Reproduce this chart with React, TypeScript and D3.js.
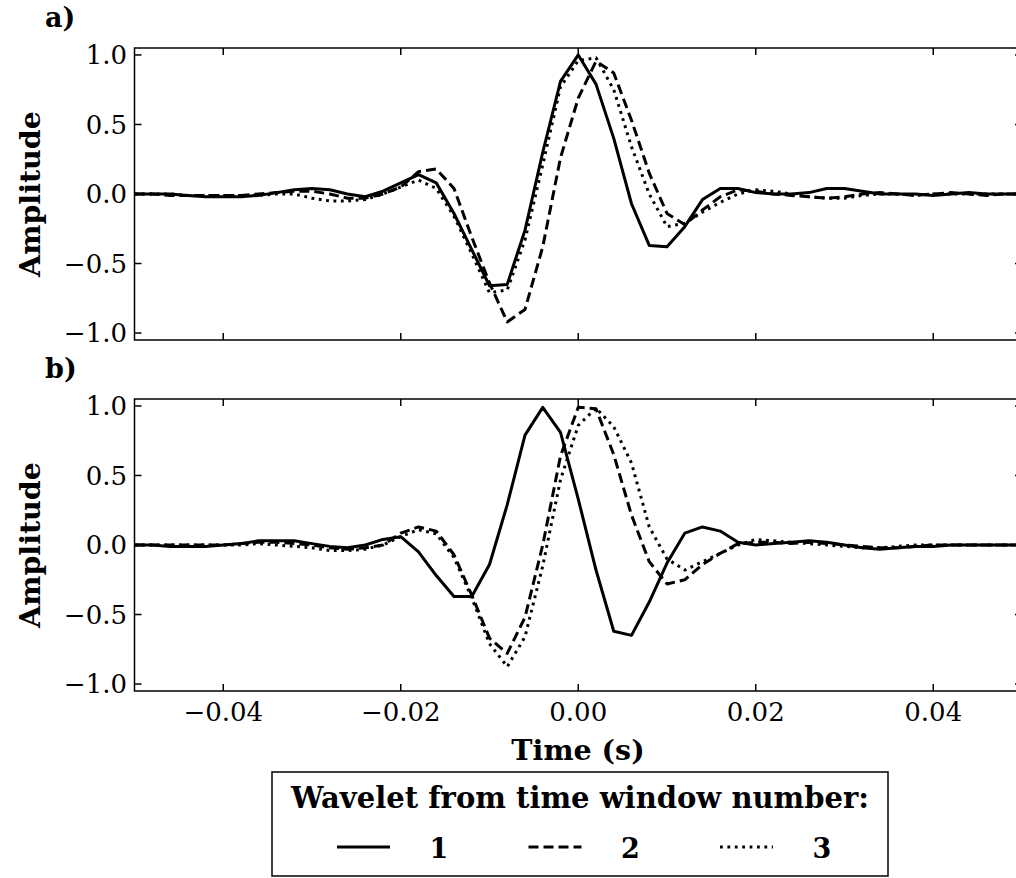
import React from 'react';
import * as d3 from 'd3';

// Sample times in milliseconds (2 ms sampling)
const TIME_MS = [-50,-48,-46,-44,-42,-40,-38,-36,-34,-32,-30,-28,-26,-24,-22,-20,-18,-16,-14,-12,-10,-8,-6,-4,-2,0,2,4,6,8,10,12,14,16,18,20,22,24,26,28,30,32,34,36,38,40,42,44,46,48,50];

// Panel a) wavelets
const A_WIN1 = [0,0,0,-0.01,-0.02, -0.02,-0.02,-0.01,0.01,0.03, 0.04,0.03,0,-0.02,0.02, 0.08,0.14,0.08,-0.14,-0.40, -0.66,-0.65,-0.26,0.30,0.81, 1.0, 0.79,0.40,-0.07,-0.37,-0.38, -0.235,-0.04,0.04,0.04,0.01, 0,0,0.01,0.04,0.04, 0.02,0,0,0,-0.01, 0,0.01,0,0,0];
const A_WIN2 = [0,0,-0.01,-0.01,-0.01, -0.01,-0.01,0,0.01,0.02, 0.02,0,-0.03,-0.03,0, 0.05,0.16,0.18,0.04,-0.31, -0.64,-0.92,-0.83,-0.38,0.26, 0.69, 0.955,0.87,0.53,0.15,-0.14, -0.22,-0.115,-0.02,0.03,0.02, 0,-0.01,-0.02,-0.03,-0.02, 0,0.01,0,-0.01,0, 0.01,0,-0.01,0,0];
const A_WIN3 = [0,0,0,-0.01,-0.01, -0.01,-0.01,-0.01,0,0, -0.03,-0.05,-0.05,-0.04,0, 0.05,0.10,0.04,-0.16,-0.43, -0.71,-0.69,-0.33,0.21,0.77, 0.96, 0.98,0.75,0.34,0,-0.235, -0.21,-0.13,-0.06,0,0.03, 0.02,0,-0.02,-0.03,-0.03, -0.01,0,0,-0.01,0, 0,0,0,0,0];

// Panel b) wavelets
const B_WIN1 = [0,0,-0.01,-0.01,-0.01, 0,0.01,0.03,0.03,0.03, 0.01,-0.01,-0.02,0,0.04, 0.06,-0.05,-0.22,-0.37,-0.37, -0.14,0.29,0.79,0.99,0.81, 0.33, -0.18,-0.62,-0.65,-0.41,-0.13, 0.085,0.13,0.10,0.02,0, 0.01,0.02,0.03,0.02,0, -0.02,-0.03,-0.02,-0.01,-0.01, 0,0,0,0,0];
const B_WIN2 = [0,0,0,0,0, 0,0.01,0.02,0.02,0.01, 0,-0.02,-0.03,-0.02,0, 0.085,0.13,0.10,-0.07,-0.36, -0.67,-0.78,-0.52,0,0.64, 0.99, 0.98,0.65,0.215,-0.12,-0.28, -0.25,-0.14,-0.06,0.01,0.02, 0.02,0.01,0.02,0.01,0, -0.01,-0.02,-0.02,-0.01,0, 0,0,0,0,0];
const B_WIN3 = [0,0,0,0,0, 0,0,0.01,0,-0.01, -0.02,-0.04,-0.04,-0.03,0, 0.06,0.11,0.08,-0.09,-0.38, -0.71,-0.875,-0.66,-0.15,0.47, 0.86, 0.985,0.85,0.59,0.13,-0.10, -0.18,-0.12,-0.06,0,0.04, 0.03,0.02,0.01,0,-0.01, -0.02,-0.02,-0.01,0,0, 0,0,0,0,0];

const X_TICKS = [-0.04, -0.02, 0, 0.02, 0.04];
const X_TICK_LABELS = ['\u22120.04', '\u22120.02', '0.00', '0.02', '0.04'];
const Y_TICKS = [-1, -0.5, 0, 0.5, 1];
const Y_TICK_LABELS = ['\u22121.0', '\u22120.5', '0.0', '0.5', '1.0'];
const PANEL_LABELS = ['a)', 'b)'];
const X_LABEL = 'Time (s)';
const Y_LABEL = 'Amplitude';
const LEGEND_TITLE = 'Wavelet from time window number:';
const LEGEND_LABELS = ['1', '2', '3'];
const DASHES = ['none', '10,5', '2.8,4.6'];

const FONT = '"DejaVu Serif", "Liberation Serif", serif';

export default function App() {
  const x = d3.scaleLinear().domain([-0.05, 0.05]).range([134.5, 1022]);
  const panelTops = [48, 399];
  const panelH = 292;
  const series = [[A_WIN1, A_WIN2, A_WIN3], [B_WIN1, B_WIN2, B_WIN3]];
  const tickLen = 7;
  const [x0, x1] = x.range();

  return (
    <svg width={1016} height={878} style={{ position: 'absolute', left: 0, top: 0, background: '#fff' }} fontFamily={FONT}>
      <rect x={0} y={0} width={1016} height={878} fill="#fff" />
      {panelTops.map((top, pi) => {
        const y = d3.scaleLinear().domain([-1.05, 1.05]).range([top + panelH, top]);
        const line = d3.line<number>()
          .x((_, i) => x(TIME_MS[i] / 1000))
          .y((d) => y(d));
        const clipId = `clip-${pi}`;
        return (
          <g key={pi}>
            <defs>
              <clipPath id={clipId}>
                <rect x={x0} y={top} width={x1 - x0} height={panelH} />
              </clipPath>
            </defs>
            <g clipPath={`url(#${clipId})`}>
              {series[pi].map((s, si) => (
                <path key={si} d={line(s) || ''} fill="none" stroke="#000" strokeWidth={3}
                  strokeDasharray={DASHES[si]} strokeLinejoin="round" />
              ))}
            </g>
            <rect x={x0} y={top} width={x1 - x0} height={panelH} fill="none" stroke="#000" strokeWidth={1.5} />
            {X_TICKS.map((t, i) => (
              <g key={'xt' + i}>
                <line x1={x(t)} x2={x(t)} y1={top + panelH} y2={top + panelH - tickLen} stroke="#000" strokeWidth={1.5} />
                <line x1={x(t)} x2={x(t)} y1={top} y2={top + tickLen} stroke="#000" strokeWidth={1.5} />
                {pi === 1 && (
                  <text x={x(t)} y={721} textAnchor="middle" fontSize={26} fill="#000">{X_TICK_LABELS[i]}</text>
                )}
              </g>
            ))}
            {Y_TICKS.map((v, i) => (
              <g key={'yt' + i}>
                <line x1={x0} x2={x0 + tickLen} y1={y(v)} y2={y(v)} stroke="#000" strokeWidth={1.5} />
                <line x1={x1} x2={x1 - tickLen} y1={y(v)} y2={y(v)} stroke="#000" strokeWidth={1.5} />
                <text x={127} y={y(v)} dy="0.36em" textAnchor="end" fontSize={26} fill="#000">{Y_TICK_LABELS[i]}</text>
              </g>
            ))}
            <text transform={`translate(40,${y(0)}) rotate(-90)`} textAnchor="middle" fontSize={28.5} fontWeight="bold" fill="#000">{Y_LABEL}</text>
            <text x={45} y={pi === 0 ? 27 : 378} fontSize={27} fontWeight="bold" fill="#000">{PANEL_LABELS[pi]}</text>
          </g>
        );
      })}
      <text x={578} y={760} textAnchor="middle" fontSize={28.5} fontWeight="bold" fill="#000">{X_LABEL}</text>
      <g>
        <rect x={272} y={772} width={616} height={104} fill="#fff" stroke="#000" strokeWidth={1.5} />
        <text x={580} y={808} textAnchor="middle" fontSize={29} fontWeight="bold" fill="#000">{LEGEND_TITLE}</text>
        {LEGEND_LABELS.map((lab, i) => {
          const lx = 337 + i * 191.5;
          return (
            <g key={lab}>
              <line x1={lx} x2={lx + 53} y1={847} y2={847} stroke="#000" strokeWidth={3} strokeDasharray={DASHES[i]} />
              <text x={lx + 102} y={858} textAnchor="middle" fontSize={27} fontWeight="bold" fill="#000">{lab}</text>
            </g>
          );
        })}
      </g>
    </svg>
  );
}
